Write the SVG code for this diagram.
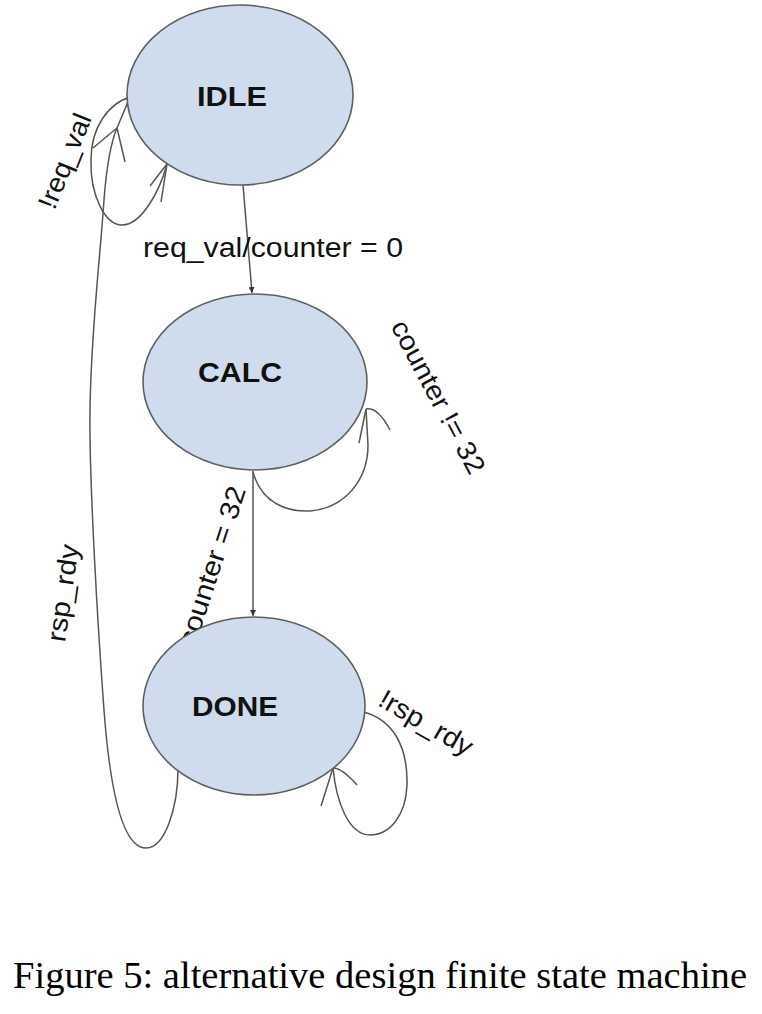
<svg xmlns="http://www.w3.org/2000/svg" width="762" height="1014" viewBox="0 0 762 1014">
  <style>
    .state { fill: #cfdcee; stroke: #5f5f5f; stroke-width: 1.6; }
    .slabel { font-family: "Liberation Sans", Arial, sans-serif; font-weight: bold; font-size: 27px; fill: #111; text-anchor: middle; }
    .edge { fill: none; stroke: #555; stroke-width: 1.5; }
    .elabel { font-family: "Liberation Sans", Arial, sans-serif; font-size: 27px; fill: #111; text-anchor: middle; }
    .caption { font-family: "Liberation Serif", "Times New Roman", serif; font-size: 38.5px; fill: #000; text-anchor: middle; }
  </style>
  <defs>
    <marker id="tip" viewBox="0 0 6 6" refX="6" refY="3" markerWidth="6" markerHeight="6" markerUnits="userSpaceOnUse" orient="auto">
      <path d="M0,0 L6,3 L0,6 Z" fill="#333"/>
    </marker>
  </defs>
  <rect width="762" height="1014" fill="#ffffff"/>

  <g id="connectors">
    <!-- IDLE -> CALC -->
    <path class="edge" d="M243,185 L252,293" marker-end="url(#tip)"/>
    <!-- CALC -> DONE -->
    <path class="edge" d="M253,471 L253,616" marker-end="url(#tip)"/>
    <!-- IDLE self loop (!req_val) -->
    <path class="edge" d="M131,97 C108,103 91,128 91,160 C90,195 105,225 122,225 C142,225 160,190 167,164"/>
    <path class="edge" d="M167,164 L150,186 M167,164 L161,202"/>
    <!-- DONE -> IDLE (rsp_rdy) -->
    <path class="edge" d="M178,768 C178,808 165,848 146,848 C122,848 110,790 104,710 C98,630 89,480 90,410 C91,330 100,260 104,200 C107,160 112,140 117,128 L130,97"/>
    <path class="edge" d="M117,128 L93,148 M117,128 L125,162"/>
    <!-- CALC self loop (counter != 32) -->
    <path class="edge" d="M253,472 C262,505 290,512 310,511 C345,508 368,480 368,445 L366,409"/>
    <path class="edge" d="M366,409 L359,443 M366,409 Q378,407 390,430"/>
    <!-- DONE self loop (!rsp_rdy) -->
    <path class="edge" d="M364,712 C392,720 408,745 407,785 C406,815 390,835 370,835 C348,835 336,800 333,768"/>
    <path class="edge" d="M333,768 L321,806 M333,768 Q342,768 357,785"/>

    <!-- labels -->
    <text class="elabel" transform="translate(65,161) rotate(-68)" y="9" textLength="100" lengthAdjust="spacingAndGlyphs">!req_val</text>
    <text class="elabel" x="273" y="257" textLength="260" lengthAdjust="spacingAndGlyphs">req_val/counter = 0</text>
    <text class="elabel" transform="translate(438,397) rotate(62)" y="9" textLength="170" lengthAdjust="spacingAndGlyphs">counter != 32</text>
    <text class="elabel" transform="translate(212,566) rotate(-72)" y="9" textLength="166" lengthAdjust="spacingAndGlyphs">counter = 32</text>
    <text class="elabel" transform="translate(63,593) rotate(-82)" y="9" textLength="98" lengthAdjust="spacingAndGlyphs">rsp_rdy</text>
    <text class="elabel" transform="translate(426,723) rotate(30)" y="9" textLength="104" lengthAdjust="spacingAndGlyphs">!rsp_rdy</text>
  </g>

  <g id="node-idle">
    <ellipse class="state" cx="240" cy="95" rx="113" ry="90"/>
    <text class="slabel" x="232" y="106" textLength="70" lengthAdjust="spacingAndGlyphs">IDLE</text>
  </g>
  <g id="node-calc">
    <ellipse class="state" cx="255" cy="382" rx="112" ry="88"/>
    <text class="slabel" x="240" y="382" textLength="84" lengthAdjust="spacingAndGlyphs">CALC</text>
  </g>
  <g id="node-done">
    <ellipse class="state" cx="254" cy="706" rx="111" ry="89"/>
    <text class="slabel" x="235" y="716" textLength="86" lengthAdjust="spacingAndGlyphs">DONE</text>
  </g>

  <text class="caption" x="380" y="988" textLength="734" lengthAdjust="spacingAndGlyphs">Figure 5: alternative design finite state machine</text>
</svg>
